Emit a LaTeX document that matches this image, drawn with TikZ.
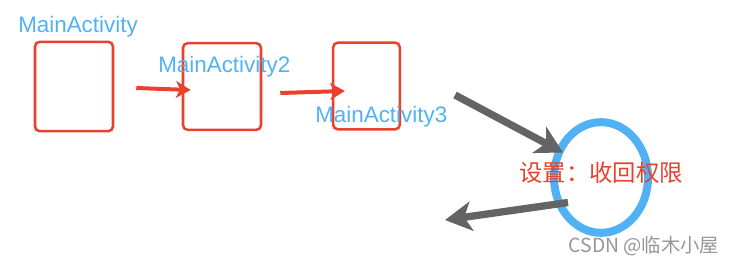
\documentclass[tikz,border=0pt]{standalone}
\usepackage{fontspec}
\setmainfont{Liberation Sans}
\newfontfamily\cjk{Noto Sans CJK SC}
\usetikzlibrary{calc,shapes.geometric,arrows.meta,positioning}

\definecolor{markred}{RGB}{232,65,44}
\definecolor{markblue}{RGB}{80,178,245}
\definecolor{markgray}{RGB}{100,100,100}
\definecolor{wmgray}{RGB}{150,150,150}

\begin{document}
\begin{tikzpicture}[x=0.75pt,y=-0.75pt]
  \useasboundingbox (0,0) rectangle (734,265);

  \tikzstyle{act}=[draw=markred,line width=1.9pt,rounded corners=3.5pt,inner sep=0pt]
  \tikzstyle{actname}=[text=markblue,font=\fontsize{16.8}{18}\selectfont,anchor=base west,inner sep=0pt]
  \tikzstyle{redarrow}=[markred,line width=3pt,-{Stealth[length=11pt,width=12.5pt,inset=3pt]}]
  \tikzstyle{grayarrow}=[markgray,line width=5.5pt,-{Stealth[length=20pt,width=22pt,inset=5.5pt]}]

  % les activites
  \node[act,minimum width=58.5pt,minimum height=67pt] (act1) at (74,86.5) {};
  \node[act,minimum width=58.5pt,minimum height=65pt] (act2) at (222,86.5) {};
  \node[act,minimum width=50pt,minimum height=65pt] (act3) at (366.5,86) {};

  \node[actname] (name1) at (18,32) {MainActivity};
  \node[actname] (name2) at (158,72) {MainActivity2};
  \node[actname] (name3) at (315,122) {MainActivity3};

  \draw[redarrow] ($(act1.east)+(22,1.5)$) -- ($(act2.west)+(9,3.5)$);
  \draw[redarrow] ($(act2.east)+(18,6.5)$) -- ($(act3.west)+(13,5)$);

  % reglage
  \node[ellipse,draw=markblue,line width=6pt,minimum width=70.5pt,minimum height=83pt,inner sep=0pt] (revoke) at (601,177.5) {};
  \node[text=markred,font=\cjk\fontsize{17.5}{20}\selectfont] (perm) at (601,173) {设置：收回权限};

  \coordinate (from3) at (455,95);
  \coordinate (back) at (445,220);
  \draw[grayarrow] (from3) -- ($(revoke.center)+(-38,-25)$);
  \draw[grayarrow] ($(revoke.center)+(-33,25)$) -- (back);

  \node[text=wmgray,font=\cjk\fontsize{14.5}{16}\selectfont] (csdn) at (644,246) {CSDN @临木小屋};
\end{tikzpicture}
\end{document}
